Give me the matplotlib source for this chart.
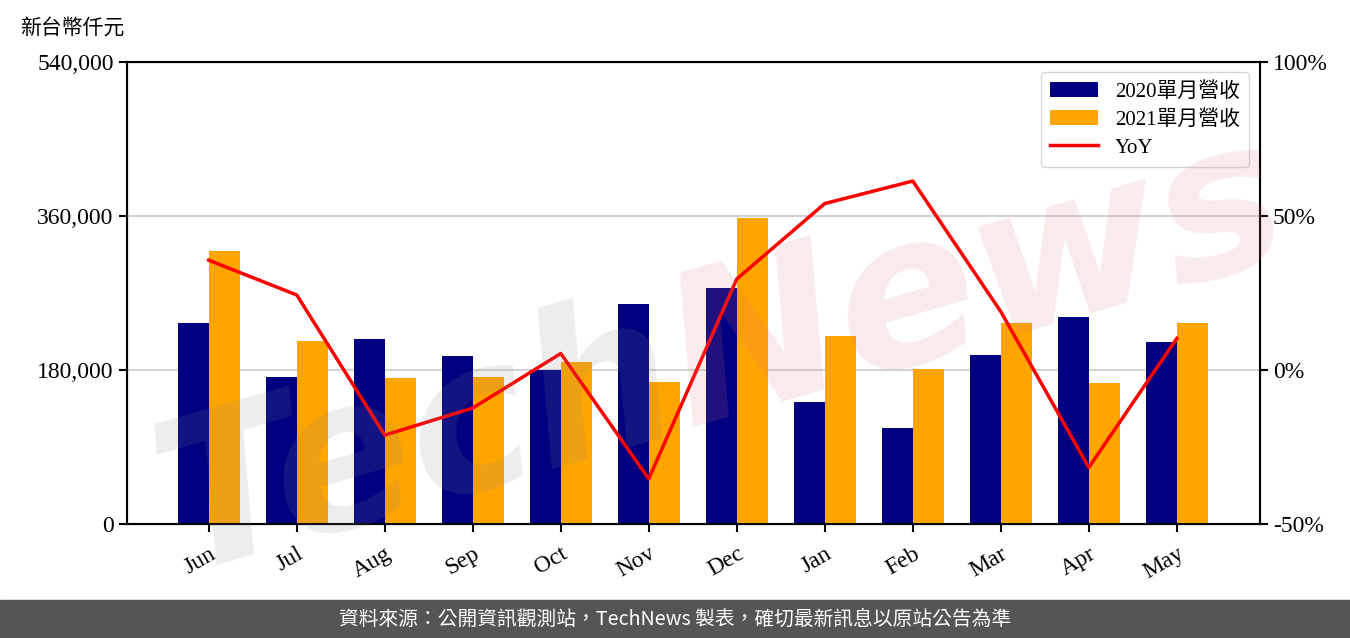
import matplotlib.pyplot as plt
import matplotlib.ticker as mticker
import numpy as np

months = ['Jun', 'Jul', 'Aug', 'Sep', 'Oct', 'Nov', 'Dec', 'Jan', 'Feb', 'Mar', 'Apr', 'May']
rev_2020 = [234900, 171800, 216200, 196400, 180000, 257100, 275800, 142600, 112200, 197500, 241900, 212700]
rev_2021 = [319100, 213900, 170600, 171800, 189400, 166000, 357700, 219700, 181200, 234900, 164800, 234900]
yoy = [35.6, 24.3, -21.2, -12.4, 5.3, -35.4, 29.5, 54.0, 61.3, 18.9, -31.7, 10.2]

serif = ['Liberation Serif', 'Noto Sans CJK TC']
cjk = ['Noto Sans CJK TC', 'DejaVu Sans']

fig = plt.figure(figsize=(13.5, 6.38), dpi=100)
ax = fig.add_axes([0.094, 0.179, 0.839, 0.724])
x = np.arange(len(months))
w = 0.35

b1 = ax.bar(x - w / 2, rev_2020, w, color='#000080', label='2020單月營收', zorder=2)
b2 = ax.bar(x + w / 2, rev_2021, w, color='#FFA500', label='2021單月營收', zorder=2)
ax.set_ylim(0, 540000)
ax.set_yticks([0, 180000, 360000, 540000])
ax.yaxis.set_major_formatter(mticker.FuncFormatter(lambda v, p: f'{int(v):,}'))
ax.grid(axis='y', color='#d3d3d3', linewidth=1.5, zorder=0)
ax.set_axisbelow(True)
ax.set_xticks(x)
ax.set_xticklabels(months, rotation=30, ha='right', rotation_mode='anchor')
ax.set_xlim(-0.93, 11.94)
for lab in ax.get_xticklabels():
    lab.set_family(serif)
    lab.set_fontsize(17)
for lab in ax.get_yticklabels():
    lab.set_family(serif)
    lab.set_fontsize(17)
for s in ax.spines.values():
    s.set_linewidth(1.5)
ax.tick_params(width=1.5, length=6)
ax.tick_params(axis='x', pad=8)

ax2 = ax.twinx()
l1, = ax2.plot(x, yoy, color='red', linewidth=2.5, label='YoY')
ax2.set_ylim(-50, 100)
ax2.set_yticks([-50, 0, 50, 100])
ax2.yaxis.set_major_formatter(mticker.FuncFormatter(lambda v, p: f'{int(v)}%'))
for lab in ax2.get_yticklabels():
    lab.set_family(serif)
    lab.set_fontsize(17)
ax2.tick_params(width=1.5, length=6)

leg = ax2.legend([b1, b2, l1], ['2020單月營收', '2021單月營收', 'YoY'], loc='upper right',
                 prop={'family': serif, 'size': 15}, handlelength=2.3, borderpad=0.45,
                 labelspacing=0.4)

fig.text(0.015, 0.957, '新台幣仟元', family=cjk, fontsize=15, va='center')

# watermark
fig.text(0.51, 0.33, 'Tech', fontsize=150, style='italic', weight='bold', color='#888888',
         alpha=0.15, rotation=16, rotation_mode='anchor', ha='right', va='baseline', zorder=10)
fig.text(0.51, 0.33, 'News', fontsize=150, style='italic', weight='bold', color='#e07a7a',
         alpha=0.15, rotation=16, rotation_mode='anchor', ha='left', va='baseline', zorder=10)

# footer
fig.patches.append(plt.Rectangle((0, 0), 1, 38 / 638, transform=fig.transFigure,
                                 color='#555555', zorder=0))
fig.text(0.5, 19 / 638, '資料來源：公開資訊觀測站，TechNews 製表，確切最新訊息以原站公告為準',
         family=cjk, fontsize=14.2, color='white', ha='center', va='center')

fig.savefig('out.png', dpi=100)
